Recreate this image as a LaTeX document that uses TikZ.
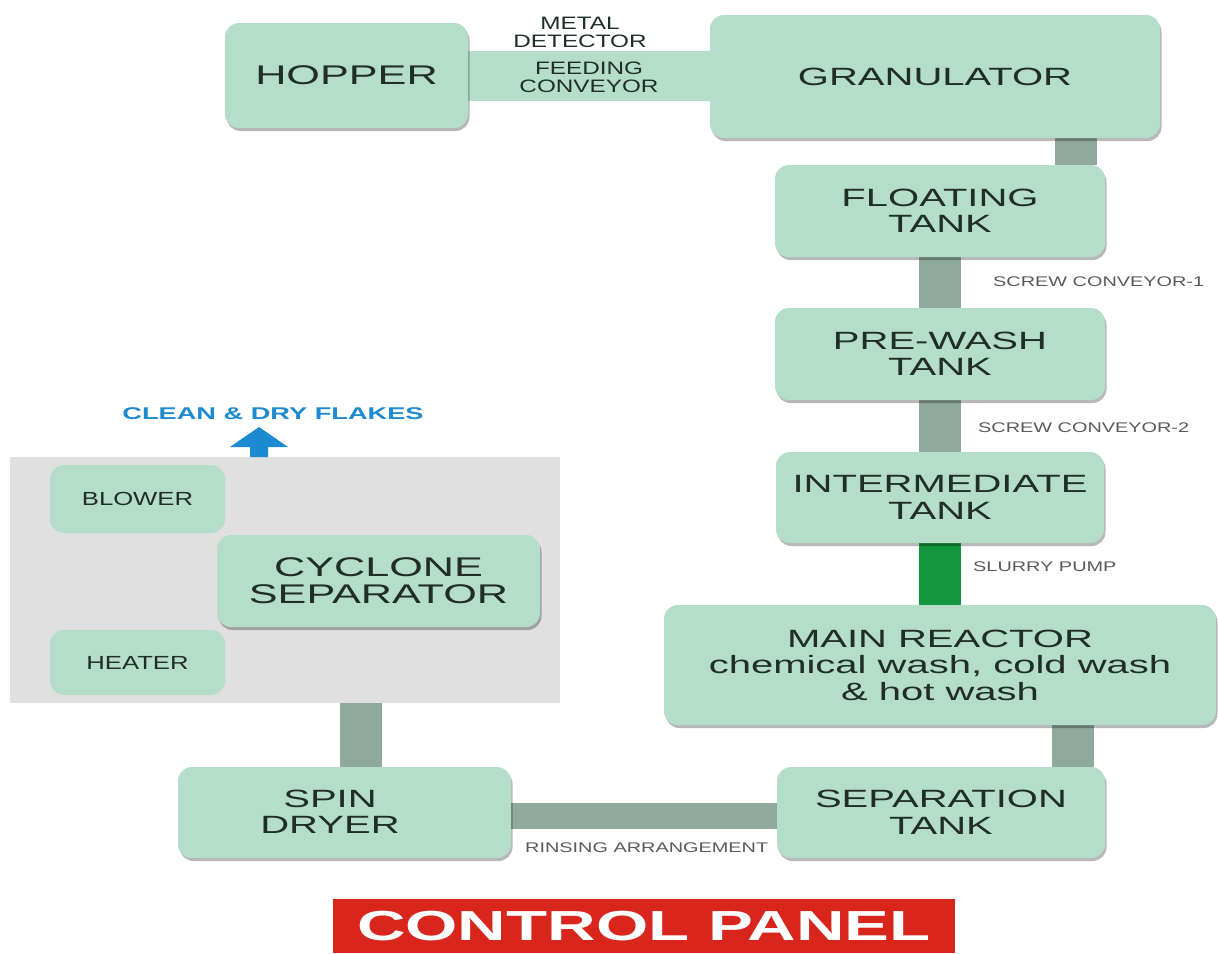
\documentclass[tikz,border=0pt]{standalone}
\usepackage{fontspec}
\setmainfont{Liberation Sans}
\newfontfamily\bigw{Liberation Sans}[FakeStretch=1.6]
\newfontfamily\medw{Liberation Sans}[FakeStretch=1.35]
\newfontfamily\smw{Liberation Sans}[FakeStretch=1.42]
\newfontfamily\bldw{Liberation Sans}[FakeStretch=1.6]
\usetikzlibrary{shadows}
\pgfdeclarelayer{paper}
\pgfdeclarelayer{back}
\pgfdeclarelayer{bars}
\pgfsetlayers{paper,back,bars,main}
\definecolor{mint}{HTML}{B5DECA}
\definecolor{barc}{HTML}{8FA99C}
\definecolor{slur}{HTML}{15973F}
\definecolor{txt}{HTML}{1F2E27}
\definecolor{labc}{HTML}{5A5A5A}
\definecolor{panelc}{HTML}{E0E0E0}
\definecolor{flake}{HTML}{1C8BD0}
\definecolor{cred}{HTML}{D8261C}
\begin{document}
\begin{tikzpicture}[x=1pt,y=-1pt,
  flatbox/.style={fill=mint, rounded corners=14pt, align=center, text=txt,
    font=\bigw\fontsize{25}{26.5}\selectfont, inner sep=0pt},
  box/.style={flatbox, drop shadow={shadow xshift=1.5pt, shadow yshift=-3pt, opacity=0.28, fill=black}},
  boxtext/.style={align=center, text=txt, font=\bigw\fontsize{25}{26.5}\selectfont, inner sep=0pt},
  bar/.style={draw=barc, line width=42pt},
  lab/.style={text=labc, font=\smw\fontsize{14}{16}\selectfont, inner sep=0pt, anchor=west},
  midlab/.style={text=txt, font=\medw\fontsize{18}{18}\selectfont, inner sep=0pt, align=center}
]
\useasboundingbox (0,0) rectangle (1218,953);
\begin{pgfonlayer}{paper}
\fill[white] (0,0) rectangle (1218,953);
\end{pgfonlayer}

% drying zone
\begin{pgfonlayer}{back}
\node[fill=panelc, minimum width=550, minimum height=246, inner sep=0] (dryzone) at (285,580) {};
\end{pgfonlayer}

% process boxes
\node[box, minimum width=243, minimum height=105, font=\bigw\fontsize{27}{28}\selectfont] (hop) at (346.5,75.5) {HOPPER};
\node[box, minimum width=450, minimum height=123] (gran) at (935,76.5) {GRANULATOR};
\node[box, minimum width=330, minimum height=92] (flt) at (940,211) {FLOATING\\TANK};
\node[box, minimum width=330, minimum height=92] (pre) at (940,354) {PRE-WASH\\TANK};
\node[box, minimum width=328, minimum height=91] (inter) at (940,497.5) {INTERMEDIATE\\TANK};
\node[box, minimum width=552, minimum height=120] (mainr) at (940,665) {MAIN REACTOR\\chemical wash, cold wash\\\& hot wash};
\node[box, minimum width=328, minimum height=91] (sep) at (941,812.5) {SEPARATION\\TANK};
\node[box, minimum width=333, minimum height=91] (spin) at (344.5,812.5) {};
\node[boxtext] (spintxt) at (330,812) {SPIN\\DRYER};
\node[box, minimum width=323, minimum height=92, font=\bigw\fontsize{27}{27}\selectfont] (cyc) at (378.5,581) {CYCLONE\\SEPARATOR};
\node[flatbox, minimum width=175, minimum height=68, font=\medw\fontsize{19}{20}\selectfont] (blow) at (137.5,499) {BLOWER};
\node[flatbox, minimum width=175, minimum height=65, font=\medw\fontsize{19}{20}\selectfont] (heat) at (137.5,662.5) {HEATER};

% connectors
\coordinate (xa) at (1076,0);
\coordinate (xb) at (940,0);
\coordinate (xc) at (1073,0);
\coordinate (xd) at (361,0);
\begin{pgfonlayer}{bars}
\draw[line width=50pt, draw=mint] (hop.east) -- (hop.east -| gran.west);
\draw[bar] (gran.south -| xa) -- (flt.north -| xa);
\draw[bar] (flt.south -| xb) -- (pre.north -| xb);
\draw[bar] (pre.south -| xb) -- (inter.north -| xb);
\draw[bar, draw=slur] (inter.south -| xb) -- (mainr.north -| xb);
\draw[bar] (mainr.south -| xc) -- (sep.north -| xc);
\draw[draw=barc, line width=26pt] ([yshift=-3.5pt]sep.west) -- ([yshift=-3.5pt]spin.east);
\draw[bar] (dryzone.south -| xd) -- (spin.north -| xd);
\end{pgfonlayer}

% labels
\node[midlab] (metal) at (580,32) {METAL\\DETECTOR};
\node[midlab] (feedlab) at (589,77) {FEEDING\\CONVEYOR};
\node[lab] (sc1) at (993,282) {SCREW CONVEYOR-1};
\node[lab] (sc2) at (978,428) {SCREW CONVEYOR-2};
\node[lab] (slp) at (973,566.5) {SLURRY PUMP};
\node[lab] (rin) at (525,848) {RINSING ARRANGEMENT};

% output arrow
\fill[flake] (250,457) -- (250,447) -- (230,447) -- (259,427) -- (288,447) -- (268,447) -- (268,457) -- cycle;
\node[text=flake, font=\bldw\bfseries\fontsize{17}{18}\selectfont, inner sep=0] (flakes) at (273,414) {CLEAN \& DRY FLAKES};

% control panel
\node[fill=cred, minimum width=622, minimum height=54, inner sep=0, text=white,
  font=\bldw\bfseries\fontsize{42}{44}\selectfont] (cp) at (644,926) {CONTROL PANEL};
\end{tikzpicture}
\end{document}
